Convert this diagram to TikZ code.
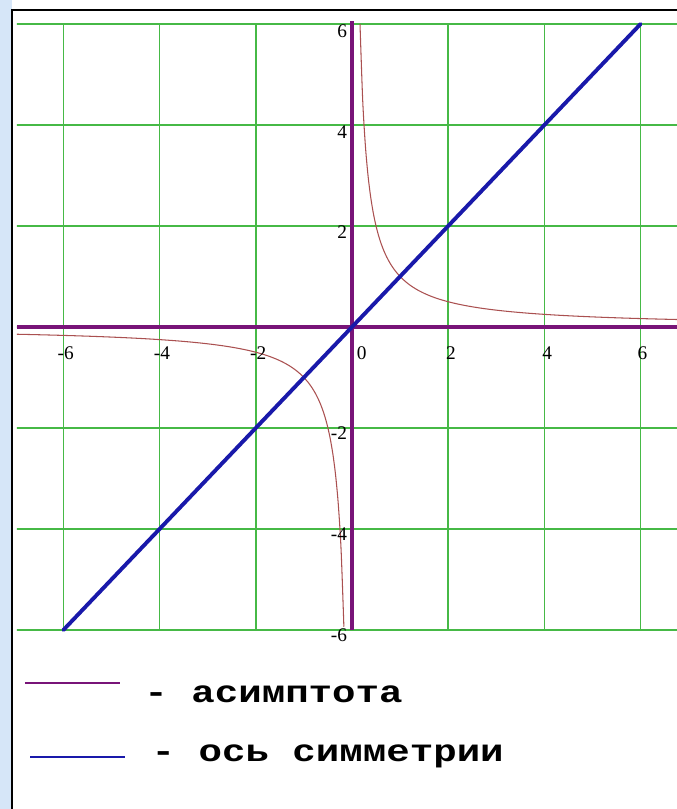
\documentclass[tikz,border=0pt]{standalone}
\usepackage{fontspec}
\setmainfont{Liberation Serif}
\newfontfamily\legfont[FakeStretch=1.26]{Liberation Mono}
\usepackage{tikz}
\usepackage{xcolor}
\definecolor{gridgreen}{RGB}{70,185,70}
\definecolor{axispurple}{RGB}{120,20,120}
\definecolor{curvered}{RGB}{170,80,80}
\definecolor{symblue}{RGB}{25,25,170}
\definecolor{sideblue}{RGB}{214,230,248}

\begin{document}
\begin{tikzpicture}[x=1.443cm,y=1.515cm,line cap=butt,
  ticklab/.style={font=\fontsize{16.5}{18}\selectfont,inner sep=0pt},
  legtext/.style={font=\legfont\bfseries\fontsize{26.5}{30}\selectfont,inner sep=0pt,anchor=base west}]
\useasboundingbox (-7.318,-9.545) rectangle (6.757,6.475);
\fill[white] (-7.318,-9.545) rectangle (6.757,6.475);
\fill[sideblue] (-7.318,-9.545) rectangle (-7.069,6.475);
\draw[black,line width=1.5pt] (-7.069,-9.545) -- (-7.069,6.277) -- (6.757,6.277);
\begin{scope}
\clip (-6.965,-6.03) rectangle (6.757,6.03);
\draw[gridgreen,line width=1.3pt] (-8,-6) grid[step=2] (8,6);
\end{scope}
\draw[axispurple,line width=4.2pt] (-6.965,0) -- (6.757,0);
\draw[axispurple,line width=4.2pt] (0,-6) -- (0,6.06);
\draw[curvered,line width=0.9pt] plot[domain=0.1667:6.757,samples=120,smooth] (\x,{1/\x});
\draw[curvered,line width=0.9pt] plot[domain=-6.965:-0.1667,samples=120,smooth] (\x,{1/\x});
\draw[symblue,line width=3.3pt,line cap=round] (-6,-6) -- (6,6);
\node[ticklab] (xm6) at (-5.95,-0.52) {-6};
\node[ticklab] (xm4) at (-3.95,-0.52) {-4};
\node[ticklab] (xm2) at (-1.95,-0.52) {-2};
\node[ticklab] (x0) at (0.2,-0.52) {0};
\node[ticklab] (x2) at (2.06,-0.52) {2};
\node[ticklab] (x4) at (4.06,-0.52) {4};
\node[ticklab] (x6) at (6.04,-0.52) {6};
\node[ticklab,anchor=east] (y6) at (-0.1,5.86) {6};
\node[ticklab,anchor=east] (y4) at (-0.1,3.86) {4};
\node[ticklab,anchor=east] (y2) at (-0.1,1.88) {2};
\node[ticklab,anchor=east] (ym2) at (-0.1,-2.1) {-2};
\node[ticklab,anchor=east] (ym4) at (-0.1,-4.1) {-4};
\node[ticklab,anchor=east] (ym6) at (-0.1,-6.1) {-6};
\draw[axispurple,line width=1.6pt] (-6.8,-7.05) -- (-4.82,-7.05);
\node[legtext] (asym) at (-4.32,-7.445) {- асимптота};
\draw[symblue,line width=1.6pt] (-6.69,-8.515) -- (-4.72,-8.515);
\node[legtext] (symax) at (-4.17,-8.61) {- ось симметрии};
\end{tikzpicture}
\end{document}
